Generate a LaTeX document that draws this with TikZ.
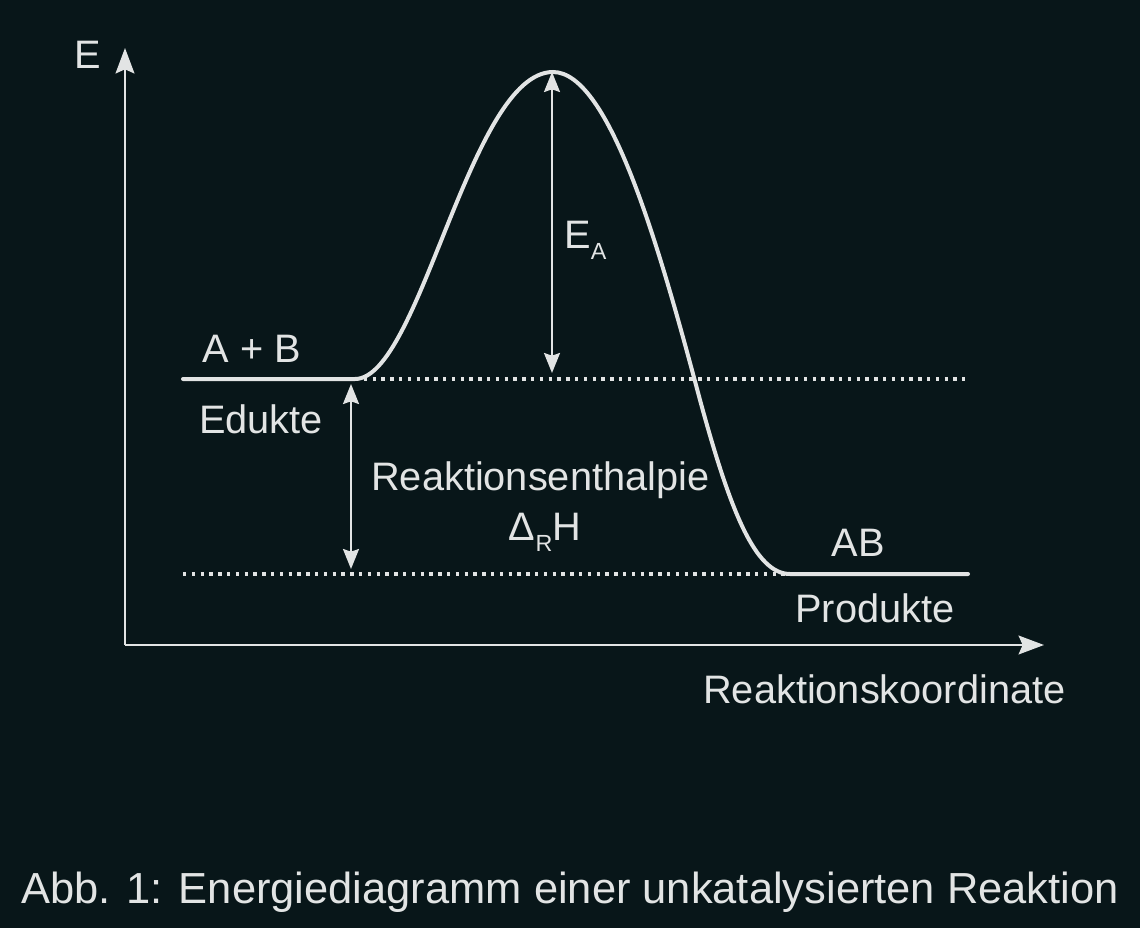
\documentclass[tikz,border=0pt]{standalone}
\usepackage{fontspec}
\setmainfont{Liberation Sans}
\usetikzlibrary{positioning,arrows.meta}
\definecolor{bgdark}{HTML}{081619}
\definecolor{chalk}{HTML}{E2E4E4}
\newcommand{\subtxt}[1]{\raisebox{-0.3em}{\fontsize{17.5}{20}\selectfont #1}}

\begin{document}
\begin{tikzpicture}
    [x=0.75pt,y=-0.75pt,
     lbl/.style={text=chalk,font=\fontsize{29.8}{34}\selectfont,inner sep=0pt},
     axis/.style={draw=chalk,line width=2.2pt,-{Stealth[length=19pt,width=14pt,inset=3pt]}},
     curve/.style={draw=chalk,line width=3pt,line cap=round},
     dots/.style={draw=chalk,line width=2.8pt,dash pattern=on 2.6pt off 4pt},
     gap/.style={draw=chalk,line width=1.5pt,{Stealth[length=15pt,width=12pt,inset=2pt]}-{Stealth[length=15pt,width=12pt,inset=2pt]}}]

    \fill[bgdark] (0,0) rectangle (1140,928);
    \useasboundingbox (0,0) rectangle (1140,928);

    % axes
    \coordinate (origin) at (125,645);
    \coordinate (ytop) at (125,48);
    \coordinate (xend) at (1044,645);
    \draw[axis] (origin) -- (ytop);
    \draw[axis] (origin) -- (xend);
    \node[lbl] (elabel) [anchor=base] at (88,68) {E};
    \node[lbl] (xlabel) [anchor=base west] at (703,703) {Reaktionskoordinate};

    % energy path
    \coordinate (eduL) at (183,379);
    \coordinate (eduR) at (355,379);
    \coordinate (peak) at (553,72);
    \coordinate (turn) at (700,400);
    \coordinate (proL) at (790,574);
    \coordinate (proR) at (968,574);
    \draw[curve] (eduL) -- (eduR)
      .. controls (420,379) and (470,72) .. (peak)
      .. controls (610,72) and (660,250) .. (turn)
      .. controls (730,510) and (755,574) .. (proL) -- (proR);

    % reference levels
    \coordinate (eduEnd) at (965,379);
    \coordinate (proStart) at (183,574);
    \draw[dots] (eduR) -- (eduEnd);
    \draw[dots] (proStart) -- (proL);

    % energy gaps
    \coordinate (eaTop) at (552,72);
    \coordinate (eaBot) at (552,373);
    \coordinate (dhTop) at (351,384);
    \coordinate (dhBot) at (351,569);
    \draw[gap] (eaTop) -- (eaBot);
    \draw[gap] (dhTop) -- (dhBot);

    \node[lbl] (ea) [anchor=base west] at (564,248) {E\subtxt{A}};
    \node[lbl] (edukt) [anchor=base] at (252,362) {A + B};
    \node[lbl] (eduktname) [anchor=base west] at (199,433) {Edukte};
    \node[lbl] (enthalpy) [anchor=base west] at (371,490) {Reaktionsenthalpie};
    \node[lbl] (deltah) [anchor=base] at (545,540) {Δ\subtxt{R}H};
    \node[lbl] (produkt) [anchor=base] at (858,556) {AB};
    \node[lbl] (produktname) [anchor=base west] at (795,622) {Produkte};

    \node[lbl,font=\fontsize{32.6}{40}\selectfont] (caption) [anchor=base] at (570,903)
      {Abb. 1: Energiediagramm einer unkatalysierten Reaktion};
\end{tikzpicture}
\end{document}
